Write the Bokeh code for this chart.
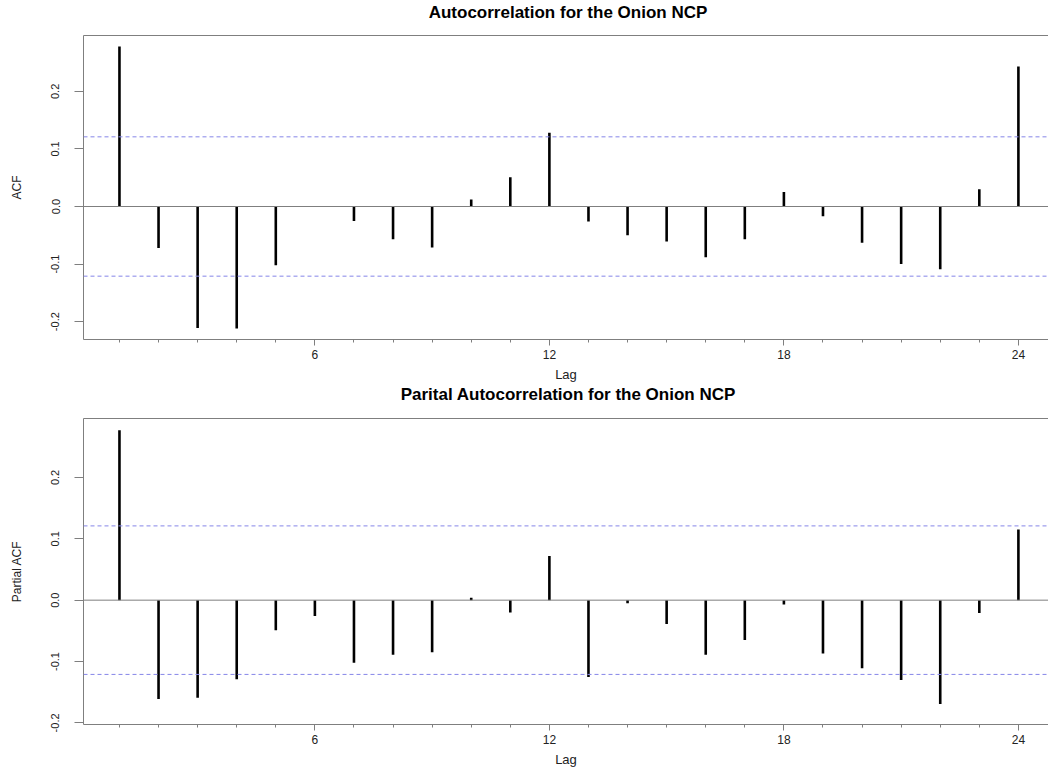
from bokeh.plotting import figure
from bokeh.layouts import column
from bokeh.models import FixedTicker, PrintfTickFormatter, Span, LinearAxis, ColumnDataSource, Div
from bokeh.embed import file_html
from bokeh.resources import INLINE

lags = list(range(1, 25))
acf_values = [0.278, -0.072, -0.211, -0.212, -0.102, -0.001, -0.025, -0.057,
              -0.071, 0.012, 0.051, 0.128, -0.026, -0.050, -0.061, -0.088,
              -0.057, 0.025, -0.017, -0.063, -0.100, -0.109, 0.030, 0.243]
pacf_values = [0.277, -0.161, -0.159, -0.129, -0.049, -0.026, -0.102, -0.089,
               -0.085, 0.004, -0.020, 0.072, -0.125, -0.005, -0.039, -0.089,
               -0.065, -0.007, -0.087, -0.111, -0.130, -0.169, -0.021, 0.115]
x_ticks = [6, 12, 18, 24]
y_ticks = [-0.2, -0.1, 0.0, 0.1, 0.2]
conf_limit = 0.121
titles = ["Autocorrelation for the Onion NCP", "Parital Autocorrelation for the Onion NCP"]
y_labels = ["ACF", "Partial ACF"]
x_label = "Lag"

FONT = "Liberation Sans"
GRAY = "#7f7f7f"


def make_title(text, h):
    return Div(text=text, width=1048, height=h, margin=(0, 0, 0, 0),
               styles={"font-family": FONT, "font-size": "17px", "font-weight": "bold",
                       "color": "black", "line-height": f"{h}px", "text-align": "center",
                       "padding-left": "88px", "box-sizing": "border-box",
                       "white-space": "nowrap", "width": "1048px", "height": f"{h}px",
                       "margin": "0px"})


def make_panel(values, ylab, y_start, y_end, fh, top_border, bottom_border):
    p = figure(frame_width=965, frame_height=fh,
               x_range=(0.08, 24.77), y_range=(y_start, y_end),
               output_backend="svg", toolbar_location=None,
               min_border_left=83, min_border_right=0,
               min_border_top=top_border, min_border_bottom=bottom_border)
    p.title.visible = False
    p.xgrid.visible = False
    p.ygrid.visible = False
    p.outline_line_color = None
    p.background_fill_color = "white"
    p.border_fill_color = "white"

    # x axis
    xa = p.xaxis[0]
    xa.ticker = FixedTicker(ticks=x_ticks, minor_ticks=lags)
    xa.axis_label = x_label
    xa.axis_label_text_font = FONT
    xa.axis_label_text_font_size = "13px"
    xa.axis_label_text_font_style = "normal"
    xa.axis_label_text_color = "#222222"
    xa.axis_label_standoff = 5
    xa.major_label_text_font = FONT
    xa.major_label_text_font_size = "12px"
    xa.major_label_text_color = "#222222"
    xa.major_label_standoff = 4
    xa.major_tick_in = 0
    xa.major_tick_out = 6
    xa.minor_tick_in = 0
    xa.minor_tick_out = 3
    xa.axis_line_color = GRAY
    xa.major_tick_line_color = GRAY
    xa.minor_tick_line_color = GRAY

    # y axis
    ya = p.yaxis[0]
    ya.ticker = FixedTicker(ticks=y_ticks, minor_ticks=[])
    ya.formatter = PrintfTickFormatter(format="%.1f")
    ya.major_label_orientation = "vertical"
    ya.axis_label = ylab
    ya.axis_label_text_font = FONT
    ya.axis_label_text_font_size = "12px"
    ya.axis_label_text_font_style = "normal"
    ya.axis_label_text_color = "#222222"
    ya.axis_label_standoff = 25
    ya.major_label_text_font = FONT
    ya.major_label_text_font_size = "11px"
    ya.major_label_text_color = "#222222"
    ya.major_label_standoff = 15
    ya.major_tick_in = 0
    ya.major_tick_out = 9
    ya.axis_line_color = GRAY
    ya.major_tick_line_color = GRAY

    # top border of the box
    top = LinearAxis(ticker=FixedTicker(ticks=[]), major_tick_out=0, major_tick_in=0,
                     minor_tick_out=0, minor_tick_in=0, major_label_text_font_size="0px",
                     axis_line_color=GRAY)
    p.add_layout(top, "above")

    # reference lines
    p.add_layout(Span(location=0, dimension="width", line_color=GRAY, line_width=1))
    for loc in (conf_limit, -conf_limit):
        p.add_layout(Span(location=loc, dimension="width", line_color="#8585e8",
                          line_width=1, line_dash="4 3"))

    src = ColumnDataSource(data=dict(lag=lags, val=values))
    p.segment(x0="lag", y0=0, x1="lag", y1="val", source=src,
              line_color="black", line_width=2.6)
    return p


t1 = make_title(titles[0], 26)
p1 = make_panel(acf_values, y_labels[0], -0.231, 0.297, 304, 9, 45)
t2 = make_title(titles[1], 22)
p2 = make_panel(pacf_values, y_labels[1], -0.2026, 0.296, 306, 12, 43)

layout = column(t1, p1, t2, p2, spacing=0)
open("out.html", "w").write(file_html(layout, INLINE))
